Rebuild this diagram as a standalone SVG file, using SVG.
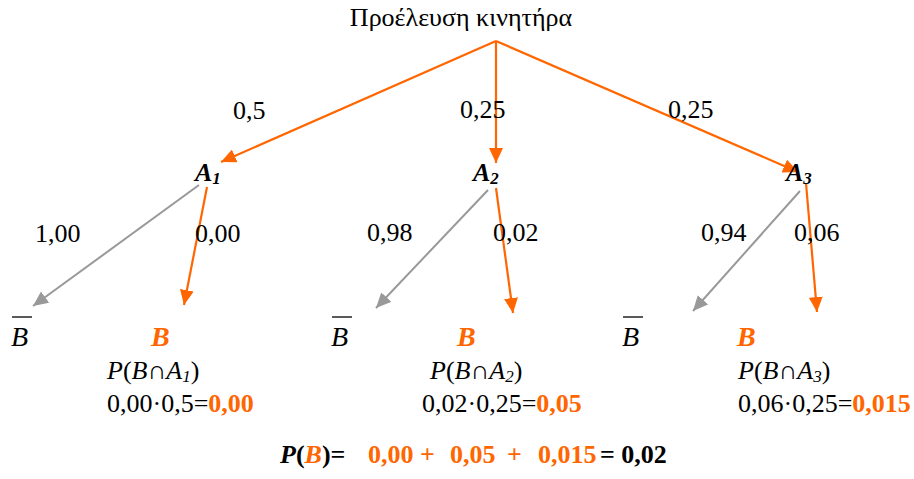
<svg xmlns="http://www.w3.org/2000/svg" width="914" height="479" viewBox="0 0 914 479">
<style>
text{font-family:"Liberation Serif","Times New Roman",serif;font-size:26px;fill:#000}
.it{font-style:italic}
.b{font-weight:bold}
.or{fill:#FF6600}
.big{font-size:28px}
.sub{font-size:17px}
.lo{stroke:#FF6600;stroke-width:2.2;fill:none}
.lg{stroke:#999999;stroke-width:2;fill:none}
</style>
<defs>
<marker id="ao" markerUnits="userSpaceOnUse" markerWidth="16" markerHeight="14" refX="15" refY="7" orient="auto"><path d="M0,0 L15,7 L0,14 z" fill="#FF6600"/></marker>
<marker id="ag" markerUnits="userSpaceOnUse" markerWidth="16" markerHeight="14" refX="15" refY="7" orient="auto"><path d="M0,0 L15,7 L0,14 z" fill="#999999"/></marker>
</defs>
<g id="connectors">
<line class="lo" x1="496" y1="41" x2="221" y2="162" marker-end="url(#ao)"/>
<line class="lo" x1="496" y1="41" x2="496" y2="163" marker-end="url(#ao)"/>
<line class="lo" x1="496" y1="41" x2="798" y2="172" marker-end="url(#ao)"/>
<line class="lg" x1="199" y1="185" x2="33" y2="306" marker-end="url(#ag)"/>
<line class="lo" x1="207" y1="187" x2="184" y2="305" marker-end="url(#ao)"/>
<line class="lg" x1="488" y1="190" x2="376" y2="308" marker-end="url(#ag)"/>
<line class="lo" x1="496" y1="188" x2="513" y2="313" marker-end="url(#ao)"/>
<line class="lg" x1="800" y1="191" x2="693" y2="311" marker-end="url(#ag)"/>
<line class="lo" x1="806" y1="183" x2="817" y2="312" marker-end="url(#ao)"/>
</g>
<g id="edge-labels">
<text x="233" y="119">0,5</text>
<text x="460" y="118">0,25</text>
<text x="668" y="118">0,25</text>
<text x="35" y="242">1,00</text>
<text x="195" y="242">0,00</text>
<text x="367" y="241">0,98</text>
<text x="493" y="241">0,02</text>
<text x="701" y="241">0,94</text>
<text x="794" y="241">0,06</text>
</g>
<g id="root"><text x="461" y="26" text-anchor="middle">Προέλευση κινητήρα</text></g>
<g id="A1"><text x="195" y="181" class="it b">A<tspan class="sub" dy="3">1</tspan></text></g>
<g id="A2"><text x="473" y="181" class="it b">A<tspan class="sub" dy="3">2</tspan></text></g>
<g id="A3"><text x="786" y="181" class="it b">A<tspan class="sub" dy="3">3</tspan></text></g>
<g id="notB1"><line x1="12" y1="317" x2="32" y2="317" stroke="#000" stroke-width="1.3"/><text x="11" y="346" class="it big">B</text></g>
<g id="notB2"><line x1="332" y1="317" x2="352" y2="317" stroke="#000" stroke-width="1.3"/><text x="331" y="346" class="it big">B</text></g>
<g id="notB3"><line x1="623" y1="317" x2="643" y2="317" stroke="#000" stroke-width="1.3"/><text x="622" y="346" class="it big">B</text></g>
<g id="B1">
<text x="151" y="346" class="it b or big">B</text>
<text x="107" y="379"><tspan class="it">P</tspan>(<tspan class="it">B</tspan>∩<tspan class="it">A<tspan class="sub" dy="3">1</tspan></tspan><tspan dy="-3">)</tspan></text>
<text x="107" y="412">0,00·0,5=<tspan class="b or">0,00</tspan></text>
</g>
<g id="B2">
<text x="457" y="346" class="it b or big">B</text>
<text x="430" y="379"><tspan class="it">P</tspan>(<tspan class="it">B</tspan>∩<tspan class="it">A<tspan class="sub" dy="3">2</tspan></tspan><tspan dy="-3">)</tspan></text>
<text x="422" y="412">0,02·0,25=<tspan class="b or">0,05</tspan></text>
</g>
<g id="B3">
<text x="737" y="346" class="it b or big">B</text>
<text x="738" y="379"><tspan class="it">P</tspan>(<tspan class="it">B</tspan>∩<tspan class="it">A<tspan class="sub" dy="3">3</tspan></tspan><tspan dy="-3">)</tspan></text>
<text x="738" y="412">0,06·0,25=<tspan class="b or">0,015</tspan></text>
</g>
<g id="total">
<text y="463" class="b"><tspan x="280" class="it">P</tspan>(<tspan class="it or">B</tspan>)=<tspan x="368" class="or">0,00 +</tspan><tspan x="450" class="or">0,05</tspan><tspan x="507" class="or">+</tspan><tspan x="538" class="or">0,015</tspan><tspan x="600">= 0,02</tspan></text>
</g>
</svg>
